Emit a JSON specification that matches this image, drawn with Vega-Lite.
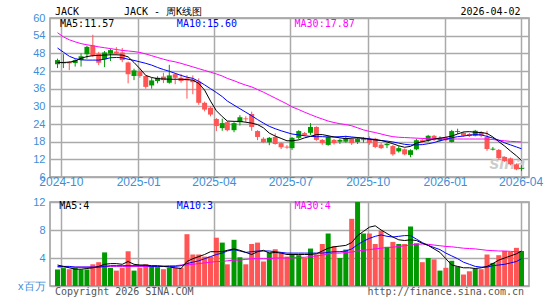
{
 "$schema": "https://vega.github.io/schema/vega-lite/v6.json",
 "autosize": "none",
 "padding": {"left": 50, "top": 18, "right": 495, "bottom": 282},
 "background": "white",
 "bounds": "flush",
 "spacing": 25,
 "config": {
  "view": {"stroke": "#999999", "strokeWidth": 1.5},
  "axis": {"labelFont": "Liberation Sans", "labelColor": "#3d8ed8", "gridColor": "#aaaaaa", "gridWidth": 1.5, "domain": false, "ticks": false, "labelOverlap": false}
 },
 "data": {"values": [
  {"d":"2024-09-27","o":45.7,"h":46.2,"l":43.0,"c":44.3,"v":2.36,"m5":44.9,"m10":49.8,"m30":55.0,"vm5":3.0,"vm10":2.8,"vm30":2.7},
  {"d":"2024-10-04","o":45.0,"h":47.7,"l":43.0,"c":44.6,"v":2.56,"m5":44.9,"m10":48.4,"m30":53.6,"vm5":2.8,"vm10":2.8,"vm30":2.7},
  {"d":"2024-10-11","o":44.6,"h":45.4,"l":42.3,"c":45.1,"v":2.4,"m5":45.0,"m10":47.0,"m30":52.6,"vm5":2.6,"vm10":2.8,"vm30":2.7},
  {"d":"2024-10-18","o":45.7,"h":46.0,"l":43.5,"c":44.7,"v":2.6,"m5":45.4,"m10":46.2,"m30":51.9,"vm5":2.4,"vm10":2.7,"vm30":2.7},
  {"d":"2024-10-25","o":47.0,"h":48.0,"l":43.5,"c":45.7,"v":2.36,"m5":46.3,"m10":45.8,"m30":51.3,"vm5":2.4,"vm10":2.7,"vm30":2.7},
  {"d":"2024-11-01","o":50.2,"h":50.6,"l":46.2,"c":47.7,"v":2.36,"m5":46.9,"m10":45.7,"m30":50.9,"vm5":2.5,"vm10":2.7,"vm30":2.7},
  {"d":"2024-11-08","o":47.2,"h":54.3,"l":46.8,"c":50.6,"v":3.1,"m5":47.2,"m10":45.7,"m30":50.6,"vm5":2.6,"vm10":2.7,"vm30":2.7},
  {"d":"2024-11-15","o":44.8,"h":48.5,"l":44.0,"c":47.8,"v":3.4,"m5":47.3,"m10":45.7,"m30":50.2,"vm5":2.8,"vm10":2.7,"vm30":2.7},
  {"d":"2024-11-22","o":48.3,"h":48.8,"l":43.3,"c":46.0,"v":4.8,"m5":47.4,"m10":46.0,"m30":49.9,"vm5":3.1,"vm10":2.8,"vm30":2.75},
  {"d":"2024-11-29","o":49.1,"h":49.6,"l":45.4,"c":47.9,"v":2.6,"m5":47.5,"m10":46.5,"m30":49.6,"vm5":3.2,"vm10":2.9,"vm30":2.8},
  {"d":"2024-12-06","o":47.9,"h":50.1,"l":47.5,"c":48.6,"v":2.2,"m5":47.5,"m10":46.6,"m30":49.3,"vm5":3.2,"vm10":2.9,"vm30":2.8},
  {"d":"2024-12-13","o":45.7,"h":49.8,"l":45.0,"c":48.3,"v":2.6,"m5":47.4,"m10":46.5,"m30":49.0,"vm5":3.1,"vm10":2.9,"vm30":2.8},
  {"d":"2024-12-20","o":40.9,"h":45.2,"l":37.8,"c":44.9,"v":4.96,"m5":46.8,"m10":46.0,"m30":48.8,"vm5":3.5,"vm10":2.9,"vm30":2.8},
  {"d":"2024-12-27","o":42.2,"h":42.8,"l":38.9,"c":40.3,"v":2.2,"m5":44.9,"m10":45.6,"m30":48.6,"vm5":3.1,"vm10":2.9,"vm30":2.8},
  {"d":"2025-01-03","o":40.3,"h":42.9,"l":39.7,"c":42.0,"v":2.6,"m5":42.8,"m10":45.1,"m30":48.3,"vm5":3.0,"vm10":2.9,"vm30":2.8},
  {"d":"2025-01-10","o":36.6,"h":40.6,"l":36.0,"c":40.3,"v":3.1,"m5":40.5,"m10":44.6,"m30":47.8,"vm5":3.0,"vm10":2.9,"vm30":2.8},
  {"d":"2025-01-17","o":38.8,"h":39.7,"l":36.0,"c":37.1,"v":2.8,"m5":39.8,"m10":44.0,"m30":47.2,"vm5":2.9,"vm10":2.8,"vm30":2.8},
  {"d":"2025-01-24","o":39.7,"h":40.2,"l":37.8,"c":38.6,"v":2.7,"m5":39.4,"m10":43.2,"m30":46.6,"vm5":2.9,"vm10":2.8,"vm30":2.8},
  {"d":"2025-01-31","o":38.9,"h":41.4,"l":37.9,"c":40.1,"v":2.4,"m5":39.3,"m10":42.5,"m30":46.0,"vm5":2.8,"vm10":2.8,"vm30":2.85},
  {"d":"2025-02-07","o":40.5,"h":44.1,"l":37.7,"c":38.0,"v":2.6,"m5":39.2,"m10":41.9,"m30":45.5,"vm5":2.7,"vm10":2.8,"vm30":2.9},
  {"d":"2025-02-14","o":39.7,"h":41.3,"l":37.5,"c":40.9,"v":2.6,"m5":39.2,"m10":41.2,"m30":45.1,"vm5":2.6,"vm10":2.8,"vm30":2.9},
  {"d":"2025-02-21","o":38.6,"h":41.0,"l":38.0,"c":39.7,"v":2.6,"m5":39.2,"m10":40.5,"m30":44.6,"vm5":2.5,"vm10":2.9,"vm30":3.0},
  {"d":"2025-02-28","o":38.8,"h":40.6,"l":32.6,"c":39.5,"v":7.4,"m5":39.1,"m10":39.9,"m30":44.0,"vm5":3.5,"vm10":3.2,"vm30":3.0},
  {"d":"2025-03-07","o":38.2,"h":40.5,"l":34.1,"c":39.0,"v":4.5,"m5":38.9,"m10":39.5,"m30":43.4,"vm5":3.9,"vm10":3.4,"vm30":3.1},
  {"d":"2025-03-14","o":31.2,"h":39.5,"l":30.5,"c":38.4,"v":4.5,"m5":37.8,"m10":38.5,"m30":42.8,"vm5":4.2,"vm10":3.6,"vm30":3.2},
  {"d":"2025-03-21","o":28.9,"h":31.6,"l":28.3,"c":31.2,"v":4.2,"m5":35.5,"m10":37.3,"m30":42.2,"vm5":4.5,"vm10":3.9,"vm30":3.3},
  {"d":"2025-03-28","o":27.2,"h":30.0,"l":26.6,"c":29.5,"v":4.2,"m5":31.8,"m10":36.0,"m30":41.6,"vm5":4.9,"vm10":4.2,"vm30":3.4},
  {"d":"2025-04-04","o":23.3,"h":26.0,"l":21.6,"c":25.7,"v":6.9,"m5":28.5,"m10":34.7,"m30":41.0,"vm5":4.9,"vm10":4.5,"vm30":3.5},
  {"d":"2025-04-11","o":24.3,"h":25.8,"l":21.7,"c":22.6,"v":6.2,"m5":26.5,"m10":33.3,"m30":40.3,"vm5":4.9,"vm10":4.7,"vm30":3.5},
  {"d":"2025-04-17","o":21.9,"h":25.0,"l":21.5,"c":24.6,"v":3.1,"m5":25.0,"m10":31.8,"m30":39.5,"vm5":5.1,"vm10":5.0,"vm30":3.6},
  {"d":"2025-04-25","o":24.3,"h":24.6,"l":21.2,"c":21.9,"v":6.6,"m5":24.9,"m10":30.4,"m30":38.7,"vm5":5.3,"vm10":5.2,"vm30":3.7},
  {"d":"2025-05-02","o":26.3,"h":27.0,"l":23.5,"c":24.6,"v":4.1,"m5":24.9,"m10":29.2,"m30":37.9,"vm5":5.1,"vm10":5.0,"vm30":3.7},
  {"d":"2025-05-09","o":25.6,"h":26.6,"l":24.6,"c":25.9,"v":3.1,"m5":24.6,"m10":28.0,"m30":37.2,"vm5":4.8,"vm10":4.8,"vm30":3.8},
  {"d":"2025-05-16","o":23.0,"h":28.2,"l":21.7,"c":27.4,"v":6.0,"m5":24.3,"m10":26.8,"m30":36.6,"vm5":4.5,"vm10":4.9,"vm30":3.9},
  {"d":"2025-05-23","o":19.6,"h":21.9,"l":18.5,"c":21.6,"v":6.2,"m5":23.8,"m10":25.5,"m30":35.7,"vm5":4.9,"vm10":5.0,"vm30":3.9},
  {"d":"2025-05-30","o":17.8,"h":19.5,"l":17.5,"c":19.0,"v":3.5,"m5":22.7,"m10":24.3,"m30":34.8,"vm5":5.1,"vm10":5.0,"vm30":3.9},
  {"d":"2025-06-06","o":19.3,"h":19.6,"l":16.8,"c":17.8,"v":4.8,"m5":20.9,"m10":23.2,"m30":33.8,"vm5":4.7,"vm10":5.0,"vm30":3.9},
  {"d":"2025-06-13","o":17.2,"h":20.8,"l":17.0,"c":19.6,"v":5.25,"m5":19.9,"m10":22.4,"m30":32.8,"vm5":4.8,"vm10":4.9,"vm30":4.0},
  {"d":"2025-06-20","o":16.1,"h":17.8,"l":15.5,"c":17.5,"v":4.7,"m5":19.1,"m10":21.7,"m30":31.8,"vm5":4.7,"vm10":4.8,"vm30":4.0},
  {"d":"2025-06-27","o":16.0,"h":16.8,"l":15.6,"c":16.3,"v":4.2,"m5":18.3,"m10":21.1,"m30":30.8,"vm5":4.5,"vm10":4.7,"vm30":4.0},
  {"d":"2025-07-03","o":19.3,"h":19.6,"l":15.2,"c":15.8,"v":4.5,"m5":18.3,"m10":20.6,"m30":29.8,"vm5":4.5,"vm10":4.7,"vm30":4.0},
  {"d":"2025-07-11","o":21.6,"h":21.9,"l":18.8,"c":19.3,"v":4.4,"m5":18.6,"m10":20.3,"m30":28.9,"vm5":4.5,"vm10":4.7,"vm30":4.1},
  {"d":"2025-07-18","o":20.3,"h":21.3,"l":19.9,"c":20.9,"v":4.0,"m5":19.3,"m10":20.0,"m30":28.0,"vm5":4.5,"vm10":4.7,"vm30":4.1},
  {"d":"2025-07-25","o":23.0,"h":24.3,"l":20.3,"c":21.0,"v":5.35,"m5":19.8,"m10":19.8,"m30":27.2,"vm5":4.5,"vm10":4.7,"vm30":4.2},
  {"d":"2025-08-01","o":18.6,"h":23.2,"l":18.3,"c":23.0,"v":4.5,"m5":20.4,"m10":19.7,"m30":26.4,"vm5":4.6,"vm10":4.7,"vm30":4.3},
  {"d":"2025-08-08","o":17.5,"h":18.9,"l":16.9,"c":18.6,"v":6.0,"m5":20.4,"m10":19.7,"m30":25.7,"vm5":5.0,"vm10":4.7,"vm30":4.4},
  {"d":"2025-08-15","o":19.6,"h":20.1,"l":16.6,"c":16.9,"v":7.5,"m5":20.0,"m10":19.6,"m30":25.0,"vm5":5.4,"vm10":4.8,"vm30":4.6},
  {"d":"2025-08-22","o":17.5,"h":18.9,"l":17.0,"c":18.6,"v":5.7,"m5":19.6,"m10":19.6,"m30":24.5,"vm5":5.6,"vm10":4.9,"vm30":4.7},
  {"d":"2025-08-29","o":18.6,"h":19.0,"l":17.2,"c":18.0,"v":4.0,"m5":19.3,"m10":19.7,"m30":24.1,"vm5":5.7,"vm10":4.9,"vm30":4.7},
  {"d":"2025-09-05","o":19.3,"h":20.0,"l":17.6,"c":18.0,"v":5.2,"m5":19.0,"m10":19.8,"m30":23.8,"vm5":5.8,"vm10":5.0,"vm30":4.8},
  {"d":"2025-09-12","o":17.5,"h":19.4,"l":16.9,"c":19.0,"v":9.6,"m5":19.2,"m10":19.6,"m30":23.4,"vm5":6.2,"vm10":5.3,"vm30":4.85},
  {"d":"2025-09-19","o":19.0,"h":19.5,"l":17.2,"c":17.9,"v":12.0,"m5":19.3,"m10":19.4,"m30":22.7,"vm5":7.2,"vm10":5.9,"vm30":5.0},
  {"d":"2025-09-26","o":18.8,"h":19.5,"l":17.7,"c":18.5,"v":7.5,"m5":19.1,"m10":19.2,"m30":22.0,"vm5":7.8,"vm10":6.4,"vm30":5.1},
  {"d":"2025-10-03","o":17.5,"h":19.8,"l":16.9,"c":19.0,"v":7.5,"m5":18.8,"m10":19.0,"m30":21.5,"vm5":8.4,"vm10":6.8,"vm30":5.2},
  {"d":"2025-10-10","o":16.2,"h":19.3,"l":15.8,"c":19.0,"v":6.0,"m5":18.6,"m10":18.7,"m30":21.1,"vm5":8.6,"vm10":7.1,"vm30":5.3},
  {"d":"2025-10-17","o":15.8,"h":17.6,"l":15.5,"c":17.0,"v":7.9,"m5":18.4,"m10":18.4,"m30":20.6,"vm5":8.0,"vm10":7.3,"vm30":5.4},
  {"d":"2025-10-24","o":17.3,"h":17.5,"l":15.8,"c":16.8,"v":5.6,"m5":17.9,"m10":18.2,"m30":20.1,"vm5":7.5,"vm10":7.1,"vm30":5.5},
  {"d":"2025-10-31","o":13.7,"h":16.9,"l":13.2,"c":16.5,"v":6.3,"m5":17.3,"m10":17.9,"m30":19.7,"vm5":7.0,"vm10":7.0,"vm30":5.55},
  {"d":"2025-11-07","o":15.8,"h":16.5,"l":14.3,"c":14.7,"v":6.0,"m5":16.6,"m10":17.5,"m30":19.5,"vm5":6.6,"vm10":7.1,"vm30":5.65},
  {"d":"2025-11-14","o":13.7,"h":15.7,"l":13.4,"c":15.4,"v":6.0,"m5":16.1,"m10":17.1,"m30":19.4,"vm5":6.5,"vm10":7.2,"vm30":5.75},
  {"d":"2025-11-21","o":15.1,"h":15.4,"l":12.7,"c":13.5,"v":8.5,"m5":16.4,"m10":16.9,"m30":19.3,"vm5":6.6,"vm10":7.2,"vm30":5.85},
  {"d":"2025-11-28","o":18.5,"h":19.0,"l":15.1,"c":15.4,"v":6.1,"m5":17.5,"m10":16.9,"m30":19.2,"vm5":6.5,"vm10":6.7,"vm30":5.95},
  {"d":"2025-12-05","o":17.9,"h":19.0,"l":17.5,"c":18.5,"v":3.4,"m5":18.0,"m10":17.0,"m30":19.1,"vm5":6.1,"vm10":6.2,"vm30":6.0},
  {"d":"2025-12-12","o":20.0,"h":20.3,"l":17.9,"c":18.4,"v":4.0,"m5":18.4,"m10":17.3,"m30":19.0,"vm5":5.8,"vm10":5.8,"vm30":5.95},
  {"d":"2025-12-19","o":18.6,"h":20.3,"l":18.2,"c":20.0,"v":3.8,"m5":18.9,"m10":17.7,"m30":19.0,"vm5":5.3,"vm10":5.5,"vm30":5.85},
  {"d":"2025-12-26","o":19.3,"h":19.8,"l":18.0,"c":18.4,"v":2.2,"m5":19.2,"m10":18.3,"m30":19.0,"vm5":4.8,"vm10":5.2,"vm30":5.75},
  {"d":"2026-01-02","o":18.5,"h":19.8,"l":18.2,"c":19.4,"v":2.6,"m5":19.5,"m10":18.8,"m30":18.9,"vm5":3.9,"vm10":4.7,"vm30":5.65},
  {"d":"2026-01-09","o":21.6,"h":22.0,"l":17.7,"c":17.9,"v":3.6,"m5":19.9,"m10":19.3,"m30":18.9,"vm5":3.0,"vm10":4.3,"vm30":5.6},
  {"d":"2026-01-16","o":21.6,"h":22.4,"l":20.6,"c":21.3,"v":2.8,"m5":20.6,"m10":19.7,"m30":18.9,"vm5":2.8,"vm10":3.9,"vm30":5.5},
  {"d":"2026-01-23","o":20.0,"h":21.3,"l":19.7,"c":21.0,"v":1.64,"m5":21.3,"m10":19.9,"m30":18.9,"vm5":2.6,"vm10":3.4,"vm30":5.4},
  {"d":"2026-01-30","o":19.9,"h":21.0,"l":19.6,"c":20.6,"v":2.1,"m5":21.4,"m10":20.2,"m30":18.9,"vm5":2.6,"vm10":3.1,"vm30":5.35},
  {"d":"2026-02-06","o":21.7,"h":22.0,"l":19.8,"c":20.0,"v":2.5,"m5":21.2,"m10":20.4,"m30":18.9,"vm5":2.5,"vm10":2.8,"vm30":5.3},
  {"d":"2026-02-13","o":20.0,"h":21.6,"l":19.5,"c":21.3,"v":2.4,"m5":21.1,"m10":20.3,"m30":18.9,"vm5":2.6,"vm10":2.7,"vm30":5.2},
  {"d":"2026-02-20","o":15.5,"h":21.7,"l":14.9,"c":19.6,"v":4.5,"m5":20.8,"m10":19.8,"m30":18.9,"vm5":2.8,"vm10":2.7,"vm30":5.1},
  {"d":"2026-02-27","o":15.6,"h":16.2,"l":15.0,"c":15.3,"v":3.3,"m5":19.6,"m10":19.2,"m30":18.7,"vm5":3.2,"vm10":2.9,"vm30":5.05},
  {"d":"2026-03-06","o":12.4,"h":15.5,"l":12.1,"c":15.2,"v":4.4,"m5":18.0,"m10":18.5,"m30":18.5,"vm5":3.7,"vm10":3.0,"vm30":5.0},
  {"d":"2026-03-13","o":11.4,"h":13.0,"l":11.1,"c":12.8,"v":5.0,"m5":16.5,"m10":17.6,"m30":18.3,"vm5":4.0,"vm10":3.1,"vm30":5.0},
  {"d":"2026-03-20","o":10.3,"h":12.6,"l":10.0,"c":12.3,"v":4.9,"m5":14.8,"m10":16.9,"m30":18.1,"vm5":4.3,"vm10":3.3,"vm30":4.95},
  {"d":"2026-03-27","o":8.6,"h":10.6,"l":8.3,"c":10.3,"v":5.45,"m5":13.2,"m10":16.2,"m30":18.0,"vm5":4.6,"vm10":3.5,"vm30":4.9},
  {"d":"2026-04-02","o":9.0,"h":10.0,"l":8.0,"c":8.7,"v":5.0,"m5":11.6,"m10":15.6,"m30":17.9,"vm5":5.0,"vm10":3.9,"vm30":4.9}
 ]},
 "vconcat": [
  {
   "width": 479,
   "height": 159,
   "layer": [
    {"data": {"values": [{"t": "sina"}]},
     "mark": {"type": "text", "font": "Liberation Sans", "fontSize": 18, "fontStyle": "italic", "fontWeight": "bold", "color": "#cccccc", "align": "center", "baseline": "middle"},
     "encoding": {"x": {"datum": 1773619200000, "type": "temporal"}, "y": {"datum": 10.4, "type": "quantitative"}, "text": {"field": "t", "type": "nominal"}}},
    {
     "encoding": {
      "x": {"field": "d", "type": "temporal",
       "scale": {"type": "utc", "domain": [{"year": 2024, "month": 9, "date": 24, "utc": true}, {"year": 2026, "month": 4, "date": 5, "utc": true}]},
       "axis": {"title": null, "format": "%Y-%m", "labelFontSize": 12, "labelPadding": -1, "labelFlush": false, "labelBound": false, "grid": true, "tickCount": 20,
        "values": [{"year": 2024, "month": 10, "date": 1, "utc": true}, {"year": 2025, "month": 1, "date": 1, "utc": true}, {"year": 2025, "month": 4, "date": 1, "utc": true}, {"year": 2025, "month": 7, "date": 1, "utc": true}, {"year": 2025, "month": 10, "date": 1, "utc": true}, {"year": 2026, "month": 1, "date": 1, "utc": true}, {"year": 2026, "month": 4, "date": 1, "utc": true}]}}
     },
     "layer": [
      {"mark": {"type": "rule", "strokeWidth": 1},
       "encoding": {
        "y": {"field": "l", "type": "quantitative", "scale": {"domain": [6, 60], "nice": false, "zero": false},
         "axis": {"title": null, "values": [6, 12, 18, 24, 30, 36, 42, 48, 54, 60], "tickCount": 20, "grid": true, "labelFontSize": 11, "labelPadding": 5}},
        "y2": {"field": "h"},
        "color": {"condition": {"test": "datum.c >= datum.o", "value": "#ff5555"}, "value": "#009900"}}},
      {"mark": {"type": "bar", "size": 5},
       "encoding": {
        "y": {"field": "o", "type": "quantitative"},
        "y2": {"field": "c"},
        "color": {"condition": {"test": "datum.c >= datum.o", "value": "#ff5555"}, "value": "#009900"}}},
      {"mark": {"type": "line", "color": "#ff00ff", "strokeWidth": 1}, "encoding": {"y": {"field": "m30", "type": "quantitative"}}},
      {"mark": {"type": "line", "color": "#0000ff", "strokeWidth": 1}, "encoding": {"y": {"field": "m10", "type": "quantitative"}}},
      {"mark": {"type": "line", "color": "#000000", "strokeWidth": 1}, "encoding": {"y": {"field": "m5", "type": "quantitative"}}}
     ]
    },
    {"data": {"values": [{"t": "JACK"}]},
     "mark": {"type": "text", "font": "DejaVu Sans Mono", "fontSize": 10, "align": "left", "baseline": "middle", "color": "#000000"},
     "encoding": {"x": {"datum": 1727136000000, "type": "temporal"}, "y": {"datum": 62.2, "type": "quantitative"}, "text": {"field": "t", "type": "nominal"}}},
    {"data": {"values": [{"t": "JACK -  周K线图"}]},
     "mark": {"type": "text", "font": "DejaVu Sans Mono", "fontSize": 10, "align": "left", "baseline": "middle", "color": "#000000"},
     "encoding": {"x": {"datum": 1734220800000, "type": "temporal"}, "y": {"datum": 62.2, "type": "quantitative"}, "text": {"field": "t", "type": "nominal"}}},
    {"data": {"values": [{"t": "2026-04-02"}]},
     "mark": {"type": "text", "font": "DejaVu Sans Mono", "fontSize": 10, "align": "right", "baseline": "middle", "color": "#000000"},
     "encoding": {"x": {"datum": 1775001600000, "type": "temporal"}, "y": {"datum": 62.2, "type": "quantitative"}, "text": {"field": "t", "type": "nominal"}}},
    {"data": {"values": [{"t": "MA5:11.57"}]},
     "mark": {"type": "text", "font": "DejaVu Sans Mono", "fontSize": 10, "align": "left", "baseline": "middle", "color": "#000000"},
     "encoding": {"x": {"datum": 1727654400000, "type": "temporal"}, "y": {"datum": 57.8, "type": "quantitative"}, "text": {"field": "t", "type": "nominal"}}},
    {"data": {"values": [{"t": "MA10:15.60"}]},
     "mark": {"type": "text", "font": "DejaVu Sans Mono", "fontSize": 10, "align": "left", "baseline": "middle", "color": "#0000ff"},
     "encoding": {"x": {"datum": 1739664000000, "type": "temporal"}, "y": {"datum": 57.8, "type": "quantitative"}, "text": {"field": "t", "type": "nominal"}}},
    {"data": {"values": [{"t": "MA30:17.87"}]},
     "mark": {"type": "text", "font": "DejaVu Sans Mono", "fontSize": 10, "align": "left", "baseline": "middle", "color": "#ff00ff"},
     "encoding": {"x": {"datum": 1751760000000, "type": "temporal"}, "y": {"datum": 57.8, "type": "quantitative"}, "text": {"field": "t", "type": "nominal"}}}
   ]
  },
  {
   "width": 479,
   "height": 84,
   "layer": [
    {
     "encoding": {
      "x": {"field": "d", "type": "temporal",
       "scale": {"type": "utc", "domain": [{"year": 2024, "month": 9, "date": 24, "utc": true}, {"year": 2026, "month": 4, "date": 5, "utc": true}]},
       "axis": {"title": null, "labels": false, "grid": true, "tickCount": 20,
        "values": [{"year": 2024, "month": 10, "date": 1, "utc": true}, {"year": 2025, "month": 1, "date": 1, "utc": true}, {"year": 2025, "month": 4, "date": 1, "utc": true}, {"year": 2025, "month": 7, "date": 1, "utc": true}, {"year": 2025, "month": 10, "date": 1, "utc": true}, {"year": 2026, "month": 1, "date": 1, "utc": true}, {"year": 2026, "month": 4, "date": 1, "utc": true}]}}
     },
     "layer": [
      {"mark": {"type": "bar", "size": 5},
       "encoding": {
        "y": {"field": "v", "type": "quantitative", "scale": {"domain": [0, 12], "nice": false},
         "axis": {"title": null, "values": [0, 4, 8, 12], "tickCount": 10, "grid": true, "labelFontSize": 11, "labelPadding": 5, "labelExpr": "datum.value == 0 ? 'x百万' : datum.label"}},
        "color": {"condition": {"test": "datum.c >= datum.o", "value": "#ff5555"}, "value": "#009900"}}},
      {"mark": {"type": "line", "color": "#ff00ff", "strokeWidth": 1}, "encoding": {"y": {"field": "vm30", "type": "quantitative"}}},
      {"mark": {"type": "line", "color": "#0000ff", "strokeWidth": 1}, "encoding": {"y": {"field": "vm10", "type": "quantitative"}}},
      {"mark": {"type": "line", "color": "#000000", "strokeWidth": 1}, "encoding": {"y": {"field": "vm5", "type": "quantitative"}}}
     ]
    },
    {"data": {"values": [{"t": "MA5:4"}]},
     "mark": {"type": "text", "font": "DejaVu Sans Mono", "fontSize": 10, "align": "left", "baseline": "middle", "color": "#000000"},
     "encoding": {"x": {"datum": 1727568000000, "type": "temporal"}, "y": {"datum": 11.43, "type": "quantitative"}, "text": {"field": "t", "type": "nominal"}}},
    {"data": {"values": [{"t": "MA10:3"}]},
     "mark": {"type": "text", "font": "DejaVu Sans Mono", "fontSize": 10, "align": "left", "baseline": "middle", "color": "#0000ff"},
     "encoding": {"x": {"datum": 1739664000000, "type": "temporal"}, "y": {"datum": 11.43, "type": "quantitative"}, "text": {"field": "t", "type": "nominal"}}},
    {"data": {"values": [{"t": "MA30:4"}]},
     "mark": {"type": "text", "font": "DejaVu Sans Mono", "fontSize": 10, "align": "left", "baseline": "middle", "color": "#ff00ff"},
     "encoding": {"x": {"datum": 1751760000000, "type": "temporal"}, "y": {"datum": 11.43, "type": "quantitative"}, "text": {"field": "t", "type": "nominal"}}},
    {"data": {"values": [{"t": "Copyright 2026 SINA.COM"}]},
     "mark": {"type": "text", "font": "DejaVu Sans Mono", "fontSize": 10, "align": "left", "baseline": "middle", "color": "#555555"},
     "encoding": {"x": {"datum": 1727136000000, "type": "temporal"}, "y": {"datum": -0.86, "type": "quantitative"}, "text": {"field": "t", "type": "nominal"}}},
    {"data": {"values": [{"t": "http://finance.sina.com.cn"}]},
     "mark": {"type": "text", "font": "DejaVu Sans Mono", "fontSize": 10, "align": "right", "baseline": "middle", "color": "#555555"},
     "encoding": {"x": {"datum": 1775347200000, "type": "temporal"}, "y": {"datum": -0.86, "type": "quantitative"}, "text": {"field": "t", "type": "nominal"}}}
   ]
  }
 ]
}
